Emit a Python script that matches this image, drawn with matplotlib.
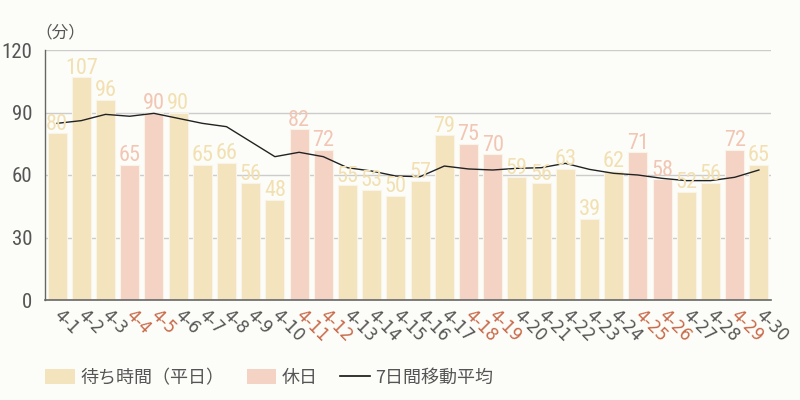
import matplotlib
matplotlib.use("Agg")
import matplotlib.pyplot as plt
from matplotlib import font_manager
from matplotlib.patches import Patch
from matplotlib.lines import Line2D

plt.rcParams['font.family'] = ['Noto Sans CJK JP', 'DejaVu Sans']

# data
days = ["4-%d" % d for d in range(1, 31)]
wait = [80, 107, 96, 65, 90, 90, 65, 66, 56, 48, 82, 72, 55, 53, 50,
        57, 79, 75, 70, 59, 56, 63, 39, 62, 71, 58, 52, 56, 72, 65]
holidays = ["4-4", "4-5", "4-11", "4-12", "4-18", "4-19", "4-25", "4-26", "4-29"]
avg7 = [84.8, 86.1, 89.1, 88.2, 89.6, 87.2, 84.8, 83.2, 76.0, 68.8,
        70.9, 68.8, 63.5, 61.9, 59.5, 59.2, 64.3, 62.9, 62.4, 63.2,
        63.5, 65.6, 62.7, 60.8, 60.0, 58.4, 57.3, 57.3, 58.9, 62.4]
yticks = [0, 30, 60, 90, 120]

c_week = "#f3e4bd"
c_hol = "#f4d3c5"
c_week_lbl = "#f2e0b2"
c_hol_lbl = "#f2c6b5"
c_text = "#555555"
c_hol_text = "#c8694a"
bg = "#fcfdf8"

# narrow font for the numbers, if one is around
installed = {f.name for f in font_manager.fontManager.ttflist}
narrow = {"family": "DejaVu Sans", "stretch": "condensed"}
for name in ["Liberation Sans Narrow", "Roboto Condensed", "Open Sans Condensed"]:
    if name in installed:
        narrow = {"family": name}
        break

fig = plt.figure(figsize=(8, 4), dpi=100, facecolor=bg)
ax = fig.add_axes([0.05625, 0.25, 0.9075, 0.625], facecolor=bg)

x = list(range(len(days)))
is_hol = [d in holidays for d in days]
colors = [c_hol if h else c_week for h in is_hol]
ax.bar(x, wait, width=0.78, color=colors, edgecolor="#faf4e6", linewidth=0.8, zorder=2)
ax.plot(x, avg7, color="#222222", linewidth=1.0, zorder=3)

for xi, v, h in zip(x, wait, is_hol):
    ax.text(xi, v - 0.7, str(v), ha="center", va="bottom", fontsize=16,
            color=c_hol_lbl if h else c_week_lbl, zorder=4, **narrow)

ax.set_xlim(-0.5, len(days) - 0.5)
ax.set_ylim(0, 120)
ax.set_yticks(yticks)
ax.set_yticklabels([str(t) for t in yticks], fontsize=15, color=c_text, **narrow)
ax.yaxis.grid(True, color="#cccccc", linewidth=1.0, zorder=0)
ax.set_axisbelow(True)
ax.tick_params(axis="y", length=0, pad=9)
ax.tick_params(axis="x", length=0)

ax.set_xticks(x)
ax.set_xticklabels([])
for xi, d, h in zip(x, days, is_hol):
    ax.text(xi - 0.02, -6, d, rotation=-45, rotation_mode="anchor",
            ha="left", va="center", fontsize=12, color=c_hol_text if h else c_text,
            family=["DejaVu Sans"])

for s in ["top", "right"]:
    ax.spines[s].set_visible(False)
ax.spines["left"].set_color("#666666")
ax.spines["bottom"].set_color("#666666")
ax.spines["left"].set_linewidth(1.0)
ax.spines["bottom"].set_linewidth(1.2)

fig.text(0.076, 0.918, "（分）", fontsize=12, color=c_text, ha="center", va="center")

handles = [Patch(facecolor=c_week, edgecolor="none"),
           Patch(facecolor=c_hol, edgecolor="none"),
           Line2D([0], [0], color="#111111", linewidth=1.2)]
labels = ["待ち時間（平日）", "休日", "7日間移動平均"]
fig.legend(handles, labels, loc="center left", bbox_to_anchor=(0.056, 0.055),
           ncol=3, frameon=False, fontsize=13, labelcolor=c_text,
           handlelength=1.65, handleheight=0.9, handletextpad=0.3, columnspacing=1.25,
           borderaxespad=0, borderpad=0)

fig.savefig("out.png", dpi=100, facecolor=bg)
